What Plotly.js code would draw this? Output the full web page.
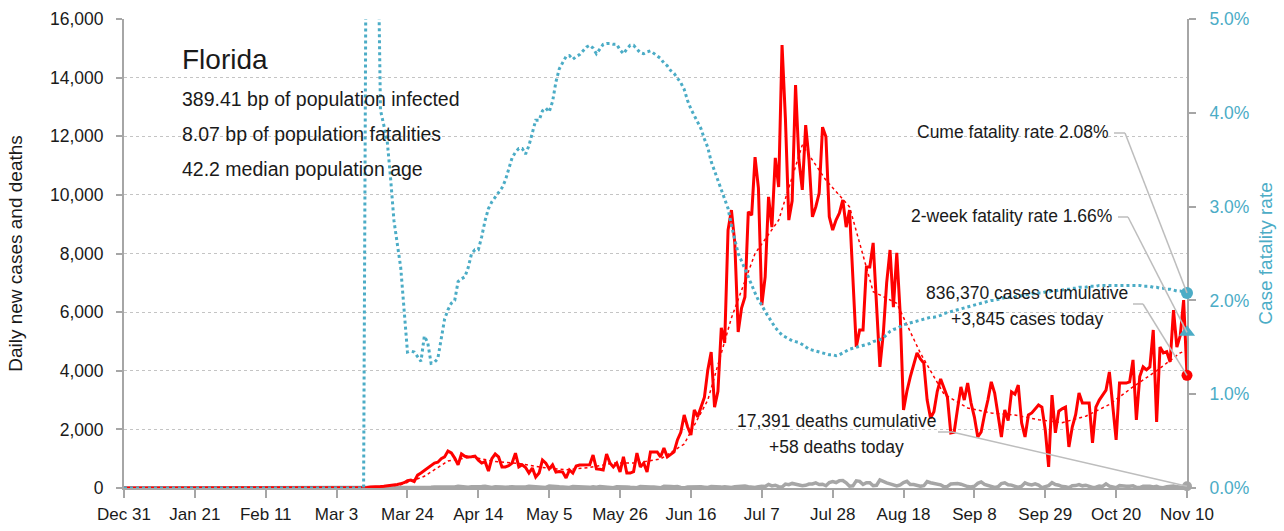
<!DOCTYPE html>
<html>
<head>
<meta charset="utf-8">
<script src="https://cdn.plot.ly/plotly-3.0.1.min.js"></script>
<style>
  html, body { margin: 0; padding: 0; background: #fff; }
  #chart { width: 1284px; height: 531px; }
</style>
</head>
<body>
<div id="chart"></div>
<script>
const FONT = "'Liberation Sans Narrow', 'Liberation Sans', Arial, sans-serif";

const axisStart = '2019-12-31';
const axisEnd = '2020-11-10';
const tickDates = ['2019-12-31','2020-01-21','2020-02-11','2020-03-03','2020-03-24','2020-04-14','2020-05-05','2020-05-26','2020-06-16','2020-07-07','2020-07-28','2020-08-18','2020-09-08','2020-09-29','2020-10-20','2020-11-10'];
const tickLabels = ['Dec 31','Jan 21','Feb 11','Mar 3','Mar 24','Apr 14','May 5','May 26','Jun 16','Jul 7','Jul 28','Aug 18','Sep 8','Sep 29','Oct 20','Nov 10'];

// daily series, first value = 2020-03-01 (all series are 0 from Dec 31 to Feb 29)
const seriesStart = '2020-03-01';
const dailyCases = [
  0,0,0,0,0,2,4,7,10,5,
  12,20,30,30,40,50,60,70,80,110,
  120,150,180,250,270,220,440,510,600,680,
  780,850,880,1000,1060,1260,1200,1020,790,1160,
  1080,1060,1070,1090,950,850,900,580,1000,1160,
  1060,720,720,760,850,1190,720,790,700,510,
  680,375,510,955,850,650,790,545,560,545,
  340,615,510,750,785,780,785,790,1125,650,
  640,615,1160,850,720,850,545,1060,510,510,
  560,1190,720,850,545,1230,1230,1230,1060,1360,
  1060,1160,1230,1640,1900,2490,2090,1810,2660,2430,
  2800,3100,4030,4640,2760,3300,5460,4950,8800,9480,
  8360,5320,6140,6520,9420,9310,11290,10230,6240,7200,
  9930,8900,11260,10270,15110,12600,9140,9800,13750,11190,
  10170,12380,11190,9250,9590,10060,12310,11980,9250,8800,
  9140,9380,9830,8900,9480,7100,4810,5390,5390,7540,
  7540,8360,6230,4130,5270,7000,8120,6170,8020,5970,
  2660,3300,3790,4200,4610,4400,4260,3000,2390,2600,
  3300,3720,3400,3100,1880,1900,2700,3450,3000,3580,
  2900,2420,1740,1910,2500,3000,3620,3240,2500,1740,
  2660,2300,3280,3200,3510,2220,1740,2490,2560,2700,
  2830,2760,1980,720,3170,1880,2620,2700,2760,1400,
  2080,2500,3240,2900,2900,2900,1540,2760,3000,3170,
  3340,3960,2660,1640,3580,3580,3580,3620,4370,2320,
  3800,4130,4030,4130,5390,2250,4810,4610,4650,4300,
  6070,4810,5200,6410,3845
];
const dailyDeaths = [
  0,0,0,0,0,2,0,0,0,0,
  2,1,0,1,1,2,1,3,2,3,
  5,4,5,7,6,10,14,10,17,19,
  22,30,28,26,24,40,30,35,60,40,
  19,25,39,33,53,50,58,34,20,40,
  48,30,26,48,42,38,30,20,34,60,
  47,48,40,38,18,66,45,50,40,38,
  16,20,53,46,36,48,28,22,41,30,
  51,40,47,14,10,39,45,49,38,25,
  22,9,52,39,44,36,33,31,8,58,
  41,48,40,47,18,6,38,43,46,39,
  43,30,18,50,37,41,30,41,29,20,
  45,58,60,67,45,30,18,47,63,48,
  120,70,95,45,35,132,112,156,128,90,
  77,92,134,136,173,120,130,77,186,216,
  186,252,257,179,62,73,245,225,120,182,
  180,77,93,276,212,174,140,114,72,107,
  186,227,119,120,100,58,77,219,181,149,
  130,110,40,56,135,150,154,130,80,50,
  35,60,160,206,119,90,62,18,40,150,
  178,110,98,43,17,60,175,125,107,140,
  100,14,33,80,180,117,96,48,40,10,
  80,82,116,74,96,42,17,30,70,54,
  143,64,41,11,80,60,60,62,75,20,
  14,60,70,56,34,60,15,10,40,60,
  68,40,36,20,58
];
const cfrPct = [
  0,0,0,0,0,0,0,0,0,0,
  0,8,10,8,6.5,4.03,3.85,3.7,3.3,2.85,
  2.6,2.35,1.9,1.45,1.46,1.45,1.4,1.35,1.62,1.55,
  1.33,1.34,1.38,1.6,1.8,1.9,1.97,2.0,2.2,2.23,
  2.25,2.35,2.5,2.54,2.54,2.68,2.85,2.98,3.05,3.1,
  3.15,3.2,3.28,3.4,3.52,3.58,3.62,3.62,3.56,3.65,
  3.78,3.92,3.92,4.02,4.05,4.01,4.12,4.33,4.47,4.53,
  4.6,4.61,4.57,4.6,4.62,4.66,4.7,4.72,4.69,4.63,
  4.68,4.73,4.74,4.74,4.73,4.73,4.67,4.63,4.68,4.72,
  4.72,4.68,4.64,4.63,4.65,4.66,4.63,4.61,4.58,4.53,
  4.5,4.45,4.42,4.37,4.32,4.25,4.13,4.04,3.97,3.9,
  3.83,3.72,3.63,3.48,3.38,3.3,3.2,3.1,2.98,2.8,
  2.65,2.5,2.42,2.33,2.24,2.16,2.08,2.0,1.95,1.88,
  1.82,1.76,1.71,1.67,1.63,1.61,1.59,1.57,1.56,1.55,
  1.53,1.5,1.48,1.47,1.46,1.45,1.44,1.43,1.42,1.42,
  1.41,1.42,1.44,1.46,1.48,1.49,1.5,1.51,1.52,1.53,
  1.54,1.56,1.57,1.58,1.6,1.64,1.67,1.69,1.7,1.72,
  1.74,1.75,1.76,1.77,1.78,1.79,1.8,1.81,1.82,1.82,
  1.83,1.84,1.86,1.87,1.88,1.89,1.9,1.91,1.92,1.93,
  1.94,1.95,1.96,1.97,1.98,1.99,2.0,2.0,2.01,2.02,
  2.03,2.03,2.04,2.04,2.05,2.05,2.06,2.06,2.07,2.07,
  2.08,2.08,2.09,2.09,2.1,2.1,2.11,2.11,2.12,2.12,
  2.13,2.13,2.14,2.14,2.14,2.15,2.15,2.15,2.16,2.16,
  2.16,2.16,2.16,2.16,2.16,2.16,2.16,2.16,2.16,2.16,
  2.16,2.15,2.15,2.15,2.14,2.14,2.13,2.13,2.12,2.12,
  2.11,2.1,2.1,2.09,2.08
];

// smoothed trend of daily cases (dotted red), read weekly
const trendDates = ['2019-12-31','2020-03-01','2020-03-08','2020-03-15','2020-03-22','2020-03-29','2020-04-05','2020-04-12','2020-04-19','2020-04-26','2020-05-03','2020-05-10','2020-05-17','2020-05-24','2020-05-31','2020-06-07','2020-06-14','2020-06-21','2020-06-28','2020-07-05','2020-07-12','2020-07-19','2020-07-26','2020-08-02','2020-08-09','2020-08-16','2020-08-23','2020-08-30','2020-09-06','2020-09-13','2020-09-20','2020-09-27','2020-10-04','2020-10-11','2020-10-18','2020-10-25','2020-11-01','2020-11-08','2020-11-10'];
const trendCases = [0,0,5,30,110,400,920,1060,900,840,700,620,700,850,850,990,1500,3000,5800,8000,9140,11700,10500,9590,6700,6300,4600,3200,2730,2560,2490,2330,2230,2450,2850,3450,4000,4610,4700];

const stateName = 'Florida';
const infectedBp = 389.41, fatalitiesBp = 8.07, medianAge = 42.2;
const cumeCfr = 2.08, twoWeekCfr = 1.66;
const casesCume = 836370, casesToday = 3845;
const deathsCume = 17391, deathsToday = 58;

const Y_MAX = 16000, Y2_MAX = 5;
const RED = '#ff0000', CYAN = '#4bacc6', GRAY = '#a6a6a6', LEAD = '#bdbdbd', INK = '#1a1a1a';

function seriesDates(n) {
  const t0 = Date.parse(seriesStart + 'T00:00:00Z');
  const out = [];
  for (let i = 0; i < n; i++) out.push(new Date(t0 + i * 86400000).toISOString().slice(0, 10));
  return out;
}
const days = seriesDates(dailyCases.length);
const xs = [axisStart].concat(days);

const traces = [
  { x: xs, y: [0].concat(dailyDeaths), type: 'scatter', mode: 'lines', yaxis: 'y',
    line: { color: GRAY, width: 3.5 }, hoverinfo: 'skip' },
  { x: xs, y: [0].concat(dailyCases), type: 'scatter', mode: 'lines', yaxis: 'y',
    line: { color: RED, width: 3 }, hoverinfo: 'skip' },
  { x: trendDates, y: trendCases, type: 'scatter', mode: 'lines', yaxis: 'y',
    line: { color: RED, width: 1.5, dash: 'dot' }, hoverinfo: 'skip' },
  { x: xs, y: [0].concat(cfrPct), type: 'scatter', mode: 'lines', yaxis: 'y2',
    line: { color: CYAN, width: 3, dash: 'dot' }, hoverinfo: 'skip' },
  { x: [axisEnd], y: [deathsToday], type: 'scatter', mode: 'markers', yaxis: 'y', cliponaxis: false,
    marker: { color: GRAY, size: 10 } },
  { x: [axisEnd], y: [casesToday], type: 'scatter', mode: 'markers', yaxis: 'y', cliponaxis: false,
    marker: { color: RED, size: 11 } },
  { x: [axisEnd], y: [cumeCfr], type: 'scatter', mode: 'markers', yaxis: 'y2', cliponaxis: false,
    marker: { color: CYAN, size: 12 } },
  { x: [axisEnd], y: [twoWeekCfr], type: 'scatter', mode: 'markers', yaxis: 'y2', cliponaxis: false,
    marker: { color: CYAN, size: 14, symbol: 'triangle-up' } }
];

// pixel helpers for the plot box (left 124, right 1187, top 19, bottom 488)
const PL = 124, PR = 1187, PT = 19, PB = 488;
const px = v => (v - PL) / (PR - PL);
const py = v => (PB - v) / (PB - PT);

function leader(x0, y0, x1, yEndPaper) {
  const st = { type: 'line', xref: 'paper', yref: 'paper', line: { color: LEAD, width: 1.5 } };
  return [
    Object.assign({}, st, { x0: px(x0), y0: py(y0), x1: px(x1), y1: py(y0) }),
    Object.assign({}, st, { x0: px(x1), y0: py(y0), x1: 1, y1: yEndPaper })
  ];
}
const shapes = [].concat(
  leader(1114, 133, 1125, cumeCfr / Y2_MAX),
  leader(1118, 217, 1128, twoWeekCfr / Y2_MAX),
  leader(1133, 304, 1143, casesToday / Y_MAX),
  leader(938, 432, 952, deathsToday / Y_MAX)
);

const fmt = n => n.toLocaleString('en-US');
function ann(text, x, y, xanchor, size, extra) {
  return Object.assign({ text: text, xref: 'paper', yref: 'paper', x: px(x), y: py(y),
    xanchor: xanchor, yanchor: 'middle', showarrow: false,
    font: { family: FONT, size: size, color: INK } }, extra || {});
}
const annotations = [
  ann(stateName, 180, 59, 'left', 28),
  ann(infectedBp.toFixed(2) + ' bp of population infected', 180, 99, 'left', 19.5),
  ann(fatalitiesBp.toFixed(2) + ' bp of population fatalities', 180, 134, 'left', 19.5),
  ann(medianAge.toFixed(1) + ' median population age', 180, 169, 'left', 19.5),
  ann('Cume fatality rate ' + cumeCfr.toFixed(2) + '%', 1111, 132, 'right', 17.5),
  ann('2-week fatality rate ' + twoWeekCfr.toFixed(2) + '%', 1114, 216, 'right', 17.5),
  ann(fmt(casesCume) + ' cases cumulative', 1027, 293, 'center', 17.5),
  ann('+' + fmt(casesToday) + ' cases today', 1027, 319, 'center', 17.5),
  ann(fmt(deathsCume) + ' deaths cumulative', 836, 421, 'center', 17.5),
  ann('+' + fmt(deathsToday) + ' deaths today', 836, 447, 'center', 17.5)
];

const layout = {
  width: 1284, height: 531,
  margin: { l: 124, r: 97, t: 19, b: 43, pad: 0 },
  paper_bgcolor: '#ffffff', plot_bgcolor: '#ffffff',
  font: { family: FONT, size: 17.5, color: INK },
  showlegend: false,
  hovermode: false,
  xaxis: {
    type: 'date', range: [axisStart, axisEnd], fixedrange: true,
    tickmode: 'array', tickvals: tickDates, ticktext: tickLabels,
    ticks: 'outside', ticklen: 8, tickwidth: 2, tickcolor: GRAY,
    ticklabelstandoff: 2,
    showline: true, linecolor: GRAY, linewidth: 2,
    showgrid: false, zeroline: false, layer: 'below traces',
    tickfont: { family: FONT, size: 17, color: INK }
  },
  yaxis: {
    range: [0, Y_MAX], dtick: 2000, tickformat: ',d', fixedrange: true,
    ticks: 'outside', ticklen: 6, tickwidth: 2, tickcolor: GRAY,
    ticklabelstandoff: 9,
    showline: true, linecolor: GRAY, linewidth: 2,
    showgrid: true, gridcolor: '#c4c4c4', gridwidth: 1, griddash: 'dot',
    zeroline: false, layer: 'below traces',
    tickfont: { family: FONT, size: 17.5, color: INK },
    title: { text: 'Daily new cases and deaths', standoff: 22,
             font: { family: FONT, size: 19, color: INK } }
  },
  yaxis2: {
    overlaying: 'y', side: 'right', anchor: 'x',
    range: [0, Y2_MAX], dtick: 1, tickformat: '.1f', ticksuffix: '%', fixedrange: true,
    ticks: 'outside', ticklen: 7, tickwidth: 2, tickcolor: GRAY,
    ticklabelstandoff: 10,
    showline: true, linecolor: GRAY, linewidth: 2,
    showgrid: false, zeroline: false, layer: 'below traces',
    tickfont: { family: FONT, size: 17.5, color: CYAN },
    title: { text: 'Case fatality rate', standoff: 10,
             font: { family: FONT, size: 19, color: CYAN } }
  },
  shapes: shapes,
  annotations: annotations
};

Plotly.newPlot('chart', traces, layout, { displayModeBar: false, staticPlot: true });
</script>
</body>
</html>
